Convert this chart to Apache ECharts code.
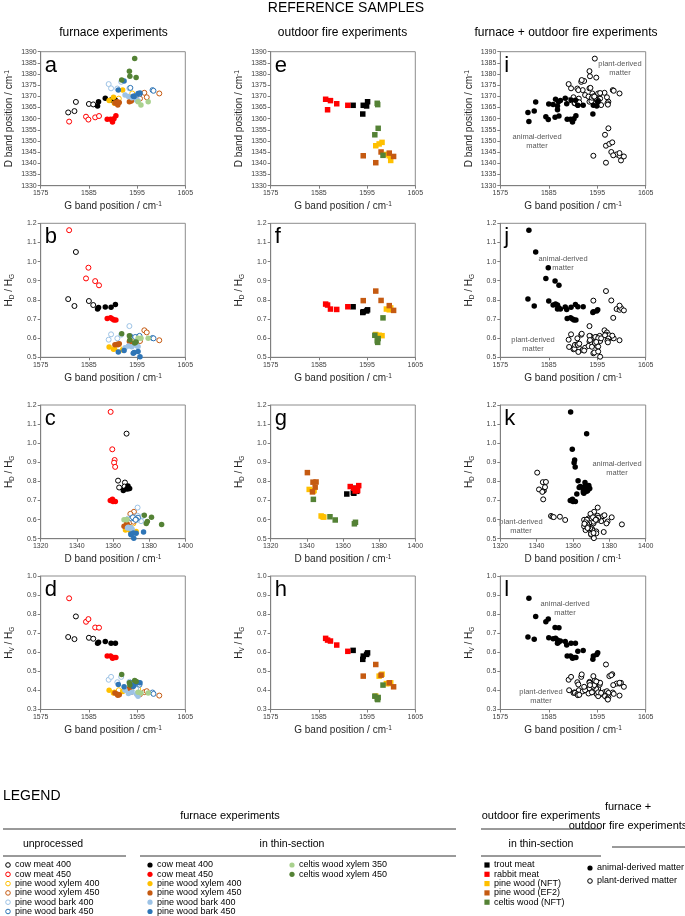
<!DOCTYPE html>
<html><head><meta charset="utf-8">
<script src="https://cdn.jsdelivr.net/npm/echarts@6/dist/echarts.min.js"></script>
<style>html,body{margin:0;padding:0;background:#fff}#c{width:685px;height:916px}</style>
</head><body><div id="c"></div><script>
// ---------- DATA: each point = [G band position, D band position, HD/HG, HV/HG] ----------
// furnace experiments, unprocessed
const cowMeat400Unprocessed = [[1580.7,1362.8,0.804,0.680],[1582.0,1363.4,0.768,0.669],[1582.3,1367.5,1.050,0.788],[1585.0,1366.6,0.794,0.676],[1585.9,1366.4,0.773,0.671]];
const cowMeat450Unprocessed = [[1580.9,1358.7,1.164,0.883],[1584.4,1360.9,0.912,0.760],[1584.9,1359.6,0.968,0.774],[1586.3,1360.6,0.898,0.730],[1587.1,1361.2,0.876,0.729]];
const pineXylem400Unprocessed = [[1591.2,1369.0,0.550,0.401],[1594.0,1371.3,0.580,0.420],[1595.2,1369.0,0.600,0.408]];
const pineXylem450Unprocessed = [[1595.6,1369.0,0.585,0.380],[1596.5,1371.6,0.641,0.391],[1597.0,1369.6,0.630,0.396],[1599.6,1371.3,0.589,0.373]];
const pineBark400Unprocessed = [[1589.1,1375.5,0.592,0.456],[1589.6,1373.6,0.620,0.471],[1590.9,1373.5,0.599,0.443],[1591.7,1376.5,0.618,0.471],[1593.4,1373.6,0.663,0.445],[1594.8,1368.5,0.606,0.407]];
const pineBark450Unprocessed = [[1593.6,1373.8,0.610,0.440],[1594.6,1370.1,0.606,0.445],[1595.5,1371.0,0.612,0.430],[1598.2,1372.8,0.601,0.389],[1598.4,1372.5,0.599,0.382]];
// furnace experiments, in thin-section
const cowMeat400Thin = [[1586.8,1365.7,0.752,0.647],[1587.0,1367.6,0.760,0.652],[1588.4,1369.2,0.763,0.656],[1589.6,1368.4,0.761,0.648],[1590.5,1368.3,0.776,0.648]];
const cowMeat450Thin = [[1588.8,1359.7,0.703,0.580],[1589.5,1359.7,0.707,0.580],[1589.9,1358.5,0.700,0.569],[1590.2,1360.0,0.695,0.573],[1590.6,1361.3,0.695,0.573]];
const pineXylem400Thin = [[1589.2,1368.2,0.554,0.401],[1590.1,1369.6,0.542,0.387],[1590.3,1366.9,0.545,0.390],[1592.0,1372.8,0.538,0.395]];
const pineXylem450Thin = [[1590.4,1367.0,0.565,0.387],[1590.9,1367.6,0.568,0.380],[1591.0,1366.1,0.565,0.375],[1591.3,1367.3,0.571,0.377],[1593.4,1367.6,0.582,0.410],[1593.8,1367.9,0.575,0.390]];
const pineBark400Thin = [[1592.5,1370.6,0.550,0.401],[1593.2,1369.9,0.559,0.384],[1593.9,1369.4,0.555,0.390],[1594.9,1368.4,0.560,0.380],[1595.2,1368.0,0.556,0.370]];
const pineBark450Thin = [[1591.1,1372.8,0.528,0.431],[1592.3,1376.9,0.535,0.419],[1594.2,1370.0,0.521,0.420],[1594.4,1369.9,0.525,0.428],[1595.2,1371.3,0.530,0.442],[1595.6,1371.5,0.503,0.440]];
const celtisXylem350Thin = [[1595.2,1367.6,0.600,0.390],[1595.8,1366.1,0.599,0.387],[1597.3,1367.6,0.599,0.387]];
const celtisXylem450Thin = [[1591.8,1377.3,0.623,0.484],[1593.4,1381.3,0.612,0.440],[1593.5,1379.0,0.590,0.428],[1594.5,1386.9,0.575,0.452],[1594.8,1378.4,0.580,0.447]];
// outdoor fire experiments, in thin-section
const troutMeat = [[1592.1,1366.0,0.764,0.610],[1594.1,1362.1,0.734,0.563],[1594.2,1366.0,0.738,0.580],[1594.9,1365.7,0.742,0.589],[1595.1,1367.6,0.748,0.597]];
const rabbitMeat = [[1586.4,1368.7,0.778,0.673],[1586.8,1364.0,0.773,0.664],[1587.4,1368.1,0.752,0.659],[1588.7,1366.7,0.750,0.638],[1591.0,1366.0,0.764,0.605]];
const pineWoodNFT = [[1596.8,1347.9,0.619,0.370],[1597.5,1348.7,0.615,0.475],[1598.1,1349.4,0.613,0.485],[1599.0,1344.0,0.752,0.436],[1599.6,1343.4,0.748,0.436],[1599.9,1341.3,0.758,0.440]];
const pineWoodEF2 = [[1594.2,1343.4,0.796,0.475],[1596.8,1340.3,0.846,0.536],[1597.9,1345.1,0.797,0.480],[1599.6,1344.6,0.770,0.440],[1600.5,1343.1,0.745,0.419]];
const celtisWoodNFT = [[1596.6,1352.8,0.615,0.370],[1597.3,1355.7,0.598,0.363],[1597.1,1366.9,0.586,0.356],[1597.2,1366.3,0.578,0.352],[1598.3,1343.6,0.706,0.428]];

// tick labels
const gTicks = [1575, 1585, 1595, 1605];
const dTicksRow1 = [1330, 1335, 1340, 1345, 1350, 1355, 1360, 1365, 1370, 1375, 1380, 1385, 1390];
const dTicksRow3 = [1320, 1340, 1360, 1380, 1400];
const hdTicks = [0.5, 0.6, 0.7, 0.8, 0.9, 1.0, 1.1, 1.2];
const hvTicks = [0.3, 0.4, 0.5, 0.6, 0.7, 0.8, 0.9, 1.0];
const panelLetters = [['a','e','i'],['b','f','j'],['c','g','k'],['d','h','l']];

// ---------- series definitions (style) ----------
const F = "'Liberation Sans', Arial, sans-serif";
const unprocessed = [
  {name:'cow meat 400', data:cowMeat400Unprocessed, color:'#000000', animal:true},
  {name:'cow meat 450', data:cowMeat450Unprocessed, color:'#ff0000', animal:true},
  {name:'pine wood xylem 400', data:pineXylem400Unprocessed, color:'#ffc000'},
  {name:'pine wood xylem 450', data:pineXylem450Unprocessed, color:'#c55a11'},
  {name:'pine wood bark 400', data:pineBark400Unprocessed, color:'#9dc3e6'},
  {name:'pine wood bark 450', data:pineBark450Unprocessed, color:'#2e75b6'}
];
const thin = [
  {name:'cow meat 400', data:cowMeat400Thin, color:'#000000', animal:true},
  {name:'cow meat 450', data:cowMeat450Thin, color:'#ff0000', animal:true},
  {name:'pine wood xylem 400', data:pineXylem400Thin, color:'#ffc000'},
  {name:'pine wood xylem 450', data:pineXylem450Thin, color:'#c55a11'},
  {name:'pine wood bark 400', data:pineBark400Thin, color:'#9dc3e6'},
  {name:'pine wood bark 450', data:pineBark450Thin, color:'#2e75b6'},
  {name:'celtis wood xylem 350', data:celtisXylem350Thin, color:'#a9d18e'},
  {name:'celtis wood xylem 450', data:celtisXylem450Thin, color:'#548235'}
];
const outdoor = [
  {name:'trout meat', data:troutMeat, color:'#000000', animal:true},
  {name:'rabbit meat', data:rabbitMeat, color:'#ff0000', animal:true},
  {name:'pine wood (NFT)', data:pineWoodNFT, color:'#ffc000'},
  {name:'pine wood (EF2)', data:pineWoodEF2, color:'#c55a11'},
  {name:'celtis wood (NFT)', data:celtisWoodNFT, color:'#548235'}
];

// ---------- layout ----------
const colLeft = [40.7, 270.7, 500.3];
const colW = [144.6, 144.6, 145.4];
const rowTop = [51.7, 223.3, 405, 576];
const rowH = [134, 134, 133.7, 133.5];

const xNameG = '{m|G band position / cm}{sup|-1}';
const xNameD = '{m|D band position / cm}{sup|-1}';
const rich = {
  m:{fontSize:10, fontFamily:F, color:'#262626'},
  sup:{fontSize:6.5, fontFamily:F, color:'#262626', verticalAlign:'top', padding:[0,0,5,0]},
  s:{fontSize:6.5, fontFamily:F, color:'#262626', verticalAlign:'bottom', padding:[5,0,0,0]}
};
const rows = [
  {xi:0, yi:1, xr:[1575,1605,10], yr:[1330,1390,5], xName:xNameG, yName:'{m|D band position / cm}{sup|-1}', yDec:0, xTicks:gTicks, yTicks:dTicksRow1},
  {xi:0, yi:2, xr:[1575,1605,10], yr:[0.5,1.2,0.1], xName:xNameG, yName:'{m|H}{s|D}{m| / H}{s|G}', yDec:1, xTicks:gTicks, yTicks:hdTicks},
  {xi:1, yi:2, xr:[1320,1400,20], yr:[0.5,1.2,0.1], xName:xNameD, yName:'{m|H}{s|D}{m| / H}{s|G}', yDec:1, xTicks:dTicksRow3, yTicks:hdTicks},
  {xi:0, yi:3, xr:[1575,1605,10], yr:[0.3,1.0,0.1], xName:xNameG, yName:'{m|H}{s|V}{m| / H}{s|G}', yDec:1, xTicks:gTicks, yTicks:hvTicks}
];

const grid = [], xAxis = [], yAxis = [], series = [], graphic = [];
const axisCommon = {
  axisLine:{show:true, onZero:false, lineStyle:{color:'#7f7f7f', width:1}},
  axisTick:{show:true, length:3, lineStyle:{color:'#7f7f7f'}},
  splitLine:{show:false},
  minorTick:{show:false}
};
function near(list, v){ return list.some(t => Math.abs(t - v) < 1e-6); }

rows.forEach((r, ri) => {
  for (let c = 0; c < 3; c++) {
    const gi = ri*3 + c;
    grid.push({left:colLeft[c], top:rowTop[ri], width:colW[c], height:rowH[ri], show:true, borderColor:'#8c8c8c', borderWidth:1, containLabel:false});
    xAxis.push(Object.assign({}, axisCommon, {
      type:'value', gridIndex:gi, min:r.xr[0], max:r.xr[1], interval:r.xr[2],
      name:r.xName, nameLocation:'middle', nameGap:15,
      nameTextStyle:{rich:rich},
      axisLabel:{fontSize:7, fontFamily:F, color:'#404040', margin:4,
        formatter:v => near(r.xTicks, v) ? String(Math.round(v)) : ''}
    }));
    yAxis.push(Object.assign({}, axisCommon, {
      type:'value', gridIndex:gi, min:r.yr[0], max:r.yr[1], interval:r.yr[2],
      name:r.yName, nameLocation:'middle', nameGap:25,
      nameTextStyle:{rich:rich},
      axisLabel:{fontSize:7, fontFamily:F, color:'#404040', margin:4,
        formatter:v => near(r.yTicks, v) ? v.toFixed(r.yDec) : ''}
    }));
    const pick = d => d.map(p => [p[r.xi], p[r.yi]]);
    if (c === 0) {
      unprocessed.forEach(s => series.push({type:'scatter', name:s.name+' (unprocessed)', xAxisIndex:gi, yAxisIndex:gi,
        data:pick(s.data), symbol:'circle', symbolSize:5, itemStyle:{color:'#ffffff', borderColor:s.color, borderWidth:1, opacity:1}}));
      thin.forEach(s => series.push({type:'scatter', name:s.name+' (thin-section)', xAxisIndex:gi, yAxisIndex:gi,
        data:pick(s.data), symbol:'circle', symbolSize:5.5, itemStyle:{color:s.color, borderWidth:0, opacity:1}}));
    } else if (c === 1) {
      outdoor.forEach(s => series.push({type:'scatter', name:s.name, xAxisIndex:gi, yAxisIndex:gi,
        data:pick(s.data), symbol:'rect', symbolSize:5.5, itemStyle:{color:s.color, borderWidth:0, opacity:1}}));
    } else {
      const all = unprocessed.concat(thin, outdoor);
      const plant = [].concat(...all.filter(s => !s.animal).map(s => s.data));
      const animal = [].concat(...all.filter(s => s.animal).map(s => s.data));
      series.push({type:'scatter', name:'plant-derived matter', xAxisIndex:gi, yAxisIndex:gi, data:pick(plant),
        symbol:'circle', symbolSize:5, itemStyle:{color:'#ffffff', borderColor:'#000', borderWidth:1, opacity:1}});
      series.push({type:'scatter', name:'animal-derived matter', xAxisIndex:gi, yAxisIndex:gi, data:pick(animal),
        symbol:'circle', symbolSize:5.5, itemStyle:{color:'#000000', borderWidth:0, opacity:1}});
    }
    graphic.push({type:'text', left:colLeft[c]+4, top:rowTop[ri]+3, silent:true,
      style:{text:panelLetters[ri][c], font:'22px '+F, fill:'#000'}});
  }
});

// annotations in combined panels
const notes = [
  ['plant-derived\nmatter', 620, 64], ['animal-derived\nmatter', 537, 137],
  ['animal-derived\nmatter', 563, 259], ['plant-derived\nmatter', 533, 340],
  ['animal-derived\nmatter', 617, 464], ['plant-derived\nmatter', 521, 522],
  ['animal-derived\nmatter', 565, 604], ['plant-derived\nmatter', 541, 692]
];
notes.forEach(n => graphic.push({type:'text', x:n[1], y:n[2]-5, silent:true,
  style:{text:n[0], font:'7.5px '+F, fill:'#595959', align:'center', verticalAlign:'top', lineHeight:9.5}}));

// titles
function txt(t, x, y, size, align){ graphic.push({type:'text', x:x, y:y, silent:true,
  style:{text:t, font:size+'px '+F, fill:'#000', align:align||'center', verticalAlign:'middle'}}); }
txt('REFERENCE SAMPLES', 346, 8, 14);
txt('furnace experiments', 113.5, 33, 12);
txt('outdoor fire experiments', 342.5, 33, 12);
txt('furnace + outdoor fire experiments', 566, 33, 12);

// ---------- legend (drawn from the series definitions) ----------
function hline(x1, x2, y){ graphic.push({type:'line', silent:true, shape:{x1:x1, y1:y, x2:x2, y2:y}, style:{stroke:'#000', lineWidth:0.8}}); }
txt('LEGEND', 3, 796, 14, 'left');
txt('furnace experiments', 230, 816, 11);
hline(3, 456, 829);
txt('outdoor fire experiments', 541, 816, 11);
hline(481, 601, 829);
txt('furnace +', 628, 807, 11);
txt('outdoor fire experiments', 628, 826, 11);
hline(612, 685, 847);
txt('unprocessed', 53, 844, 10.5);
hline(3, 126, 856);
txt('in thin-section', 292, 844, 10.5);
hline(140, 456, 856);
txt('in thin-section', 541, 844, 10.5);
hline(481, 601, 856);

const rowY = [865, 874.3, 883.6, 892.9, 902.2, 911.5];
function legItem(x, y, label, color, kind, fs){
  if (kind === 'open') graphic.push({type:'circle', silent:true, shape:{cx:x, cy:y, r:2.3}, style:{fill:'#fff', stroke:color, lineWidth:1}});
  else if (kind === 'dot') graphic.push({type:'circle', silent:true, shape:{cx:x, cy:y, r:2.6}, style:{fill:color}});
  else graphic.push({type:'rect', silent:true, shape:{x:x-2.6, y:y-2.6, width:5.2, height:5.2}, style:{fill:color}});
  graphic.push({type:'text', x:x+7, y:y, silent:true, style:{text:label, font:(fs||9)+'px '+F, fill:'#000', verticalAlign:'middle'}});
}
unprocessed.forEach((s, i) => legItem(8, rowY[i], s.name, s.color, 'open'));
thin.slice(0, 6).forEach((s, i) => legItem(150, rowY[i], s.name, s.color, 'dot'));
thin.slice(6).forEach((s, i) => legItem(292, rowY[i], s.name, s.color, 'dot'));
outdoor.forEach((s, i) => legItem(487, rowY[i], s.name, s.color, 'square'));
legItem(590, 868, 'animal-derived matter', '#000', 'dot', 9);
legItem(590, 881, 'plant-derived matter', '#000', 'open', 9);

const chart = echarts.init(document.getElementById('c'), null, {renderer:'canvas'});
chart.setOption({animation:false, backgroundColor:'#fff', grid:grid, xAxis:xAxis, yAxis:yAxis, series:series, graphic:graphic});
</script></body></html>
